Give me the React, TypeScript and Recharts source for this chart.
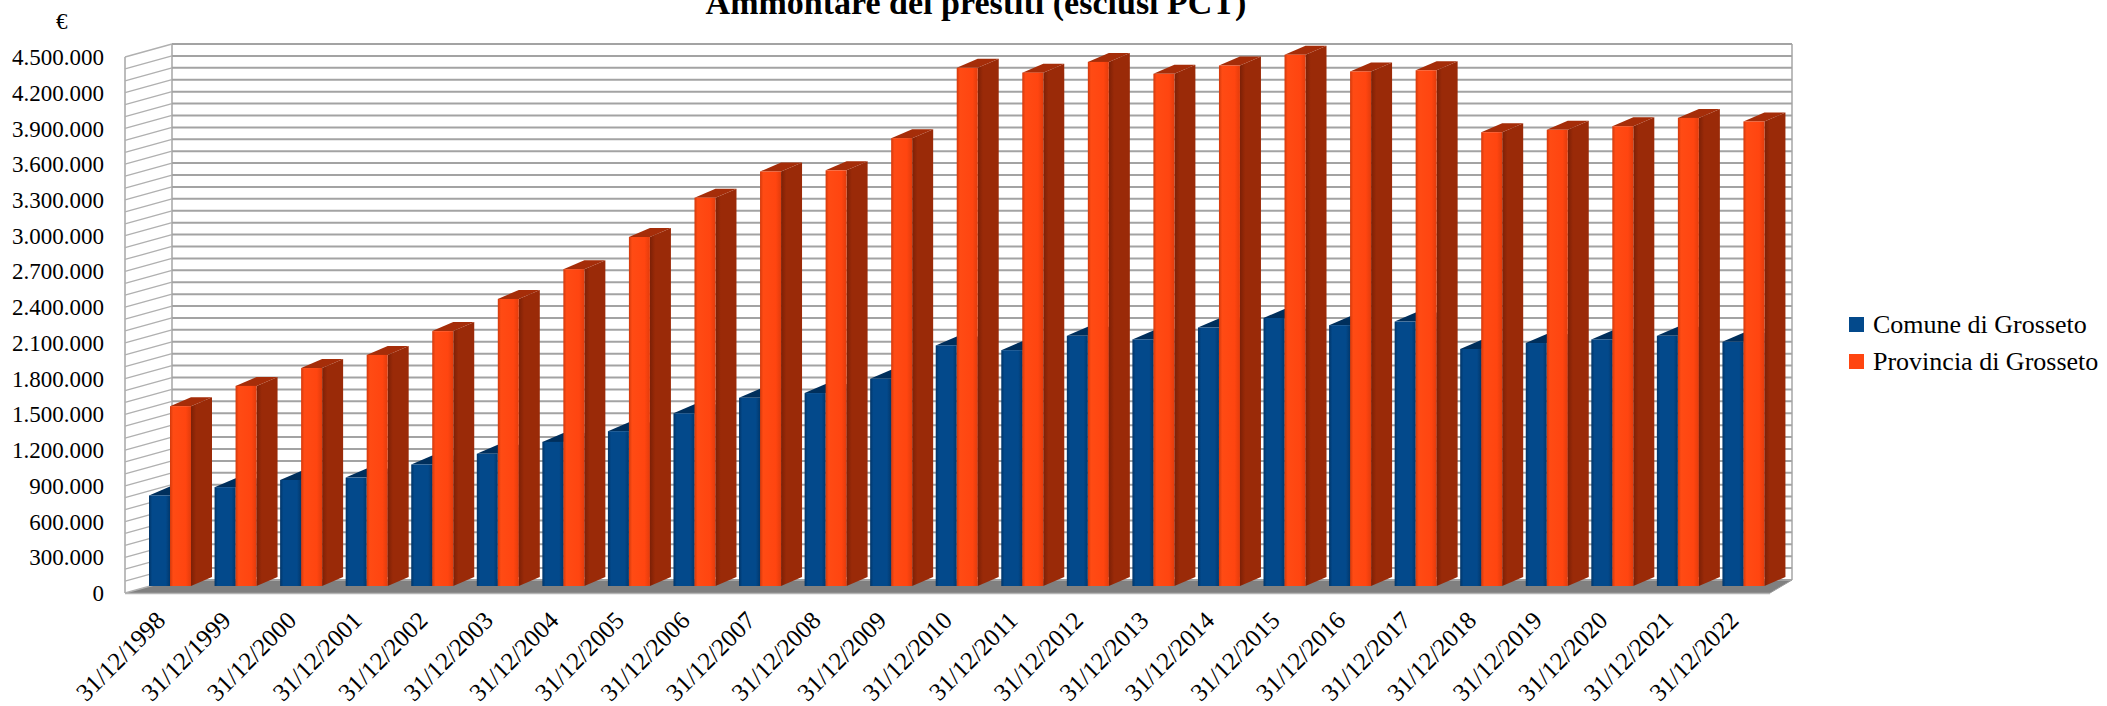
import React from 'react';
import { BarChart, Bar, XAxis, YAxis, CartesianGrid, Legend } from 'recharts';

const DATES = [
  '31/12/1998', '31/12/1999', '31/12/2000', '31/12/2001', '31/12/2002',
  '31/12/2003', '31/12/2004', '31/12/2005', '31/12/2006', '31/12/2007',
  '31/12/2008', '31/12/2009', '31/12/2010', '31/12/2011', '31/12/2012',
  '31/12/2013', '31/12/2014', '31/12/2015', '31/12/2016', '31/12/2017',
  '31/12/2018', '31/12/2019', '31/12/2020', '31/12/2021', '31/12/2022',
];

const COMUNE = [
  760000, 830000, 890000, 910000, 1020000, 1110000, 1210000, 1300000, 1450000, 1580000,
  1620000, 1740000, 2020000, 1980000, 2100000, 2070000, 2170000, 2250000, 2190000, 2220000,
  1990000, 2040000, 2070000, 2100000, 2050000,
];

const PROVINCIA = [
  1510000, 1680000, 1830000, 1940000, 2140000, 2410000, 2660000, 2930000, 3260000, 3480000,
  3490000, 3760000, 4350000, 4310000, 4400000, 4300000, 4370000, 4460000, 4320000, 4330000,
  3810000, 3830000, 3860000, 3930000, 3900000,
];

const Y_LABELS = [
  0, 300000, 600000, 900000, 1200000, 1500000, 1800000, 2100000,
  2400000, 2700000, 3000000, 3300000, 3600000, 3900000, 4200000, 4500000,
];
// minor grid every 100.000
const GRID_VALUES = Array.from({ length: 46 }, (_, i) => i * 100000);

const data = DATES.map((date, i) => ({ date, comune: COMUNE[i], provincia: PROVINCIA[i] }));

const FONT = '"Liberation Serif", "Times New Roman", serif';
const W = 2107;
const H = 706;
// plot area = plane of the bars' front faces
const PLOT_LEFT = 137;
const PLOT_RIGHT = 1776;
const PLOT_TOP = 50;

// 3d offsets
const BACK_DY = -6;
const FRONT_DY = 7;
const DX = 21;
const DY = 9;

const fmt = (v: number) => String(v).replace(/\B(?=(\d{3})+(?!\d))/g, '.');

const renderGridLine = (p: any) => {
  const { x1, x2, y1, index } = p;
  const yb = y1 + BACK_DY;
  const yf = y1 + FRONT_DY;
  const bl = x1 + 35;
  const br = x2 + 16;
  const fl = x1 - 12;
  const fr = x2 - 6;
  return (
    <g key={`gl-${index}`}>
      {index === 0 && (
        <g>
          <polygon points={`${fl},${yf} ${fr},${yf} ${br},${yb} ${bl},${yb}`} fill="#808080" />
          <line x1={fl} y1={yf + 0.5} x2={fr} y2={yf + 0.5} stroke="#b4b4b4" strokeWidth={1.5} />
          <line x1={fr} y1={yf} x2={br} y2={yb} stroke="#9a9a9a" strokeWidth={1} />
          <line x1={fl} y1={PLOT_TOP + FRONT_DY} x2={fl} y2={yf} stroke="#a6a6a6" strokeWidth={1.5} />
          <line x1={bl} y1={PLOT_TOP + BACK_DY} x2={bl} y2={yb} stroke="#a6a6a6" strokeWidth={1.5} />
          <line x1={br} y1={PLOT_TOP + BACK_DY} x2={br} y2={yb} stroke="#a6a6a6" strokeWidth={1.5} />
        </g>
      )}
      <line x1={bl} y1={yb} x2={br} y2={yb} stroke="#a3a3a3" strokeWidth={2} />
      <line x1={fl} y1={yf} x2={bl} y2={yb} stroke="#b0b0b0" strokeWidth={1.3} />
    </g>
  );
};

const YTick = (p: any) => {
  const v = p.payload.value;
  if (!Y_LABELS.includes(v)) return <g />;
  return (
    <text x={p.x - 33} y={p.y + FRONT_DY} dy="0.35em" textAnchor="end" fontSize={23} fontFamily={FONT} fill="#000">
      {fmt(v)}
    </text>
  );
};

const XTick = (p: any) => {
  const ax = p.x - 3;
  const ay = p.y + 36;
  return (
    <text x={ax} y={ay} textAnchor="end" fontSize={25} fontFamily={FONT} fill="#000" transform={`rotate(-45 ${ax} ${ay})`}>
      {p.payload.value}
    </text>
  );
};

const makeBar = (grad: string, side: string, top: string) => (p: any) => {
  const { x, y, width: w, height: h } = p;
  if (!h || h <= 0) return <g />;
  return (
    <g>
      <polygon points={`${x + w},${y} ${x + w + DX},${y - DY} ${x + w + DX},${y + h - DY} ${x + w},${y + h}`} fill={side} />
      <polygon points={`${x},${y} ${x + w},${y} ${x + w + DX},${y - DY} ${x + DX},${y - DY}`} fill={top} />
      <rect x={x} y={y} width={w} height={h} fill={`url(#${grad})`} />
    </g>
  );
};

const BlueBar = makeBar('gBlue', '#02386c', '#002f5c');
const OrangeBar = makeBar('gOrange', 'url(#gOrangeSide)', '#a52d09');

const LegendContent = (props: any) => (
  <div style={{ fontFamily: FONT, fontSize: 26, color: '#000' }}>
    {(props.payload || []).map((e: any) => (
      <div key={e.value} style={{ display: 'flex', alignItems: 'center', height: 37 }}>
        <span style={{ width: 15, height: 15, background: e.color, marginRight: 9, display: 'inline-block' }} />
        <span>{e.value}</span>
      </div>
    ))}
  </div>
);

export default function App() {
  return (
    <div style={{ position: 'absolute', left: 0, top: 0, width: W, height: H, overflow: 'hidden', background: '#fff' }}>
      <div
        style={{
          position: 'absolute', left: 476, width: 1000, top: -14, textAlign: 'center',
          fontFamily: FONT, fontWeight: 'bold', fontSize: 34, lineHeight: '34px', zIndex: 2,
        }}
      >
        Ammontare dei prestiti (esclusi PCT)
      </div>
      <div style={{ position: 'absolute', left: 56, top: 10, fontFamily: FONT, fontSize: 23, lineHeight: '23px', zIndex: 2 }}>€</div>
      <BarChart
        width={W}
        height={H}
        data={data}
        margin={{ top: PLOT_TOP, right: W - PLOT_RIGHT, left: 0, bottom: 20 }}
        barGap={0}
        barSize={21}
      >
        <defs>
          <linearGradient id="gBlue" x1="0" y1="0" x2="1" y2="0">
            <stop offset="0" stopColor="#013466" />
            <stop offset="0.15" stopColor="#03498b" />
            <stop offset="0.8" stopColor="#03498b" />
            <stop offset="1" stopColor="#02386c" />
          </linearGradient>
          <linearGradient id="gOrange" x1="0" y1="0" x2="1" y2="0">
            <stop offset="0" stopColor="#d2390c" />
            <stop offset="0.15" stopColor="#ff4b14" />
            <stop offset="0.75" stopColor="#ff4510" />
            <stop offset="1" stopColor="#e23c0c" />
          </linearGradient>
          <linearGradient id="gOrangeSide" x1="0" y1="0" x2="1" y2="0">
            <stop offset="0" stopColor="#7c2006" />
            <stop offset="0.25" stopColor="#9a2a08" />
            <stop offset="1" stopColor="#9a2a08" />
          </linearGradient>
        </defs>
        <CartesianGrid vertical={false} horizontal={renderGridLine} />
        <XAxis
          dataKey="date"
          interval={0}
          axisLine={false}
          tickLine={false}
          tickSize={0}
          tickMargin={0}
          height={100}
          tick={<XTick />}
        />
        <YAxis
          domain={[0, 4500000]}
          ticks={GRID_VALUES}
          interval={0}
          width={PLOT_LEFT}
          axisLine={false}
          tickLine={false}
          tickSize={0}
          tickMargin={0}
          tick={<YTick />}
        />
        <Legend
          layout="vertical"
          align="center"
          verticalAlign="middle"
          wrapperStyle={{ left: 1849, top: 306, width: 258 }}
          content={<LegendContent />}
        />
        <Bar dataKey="comune" name="Comune di Grosseto" fill="#03498b" shape={BlueBar} isAnimationActive={false} />
        <Bar dataKey="provincia" name="Provincia di Grosseto" fill="#ff4510" shape={OrangeBar} isAnimationActive={false} />
      </BarChart>
    </div>
  );
}
